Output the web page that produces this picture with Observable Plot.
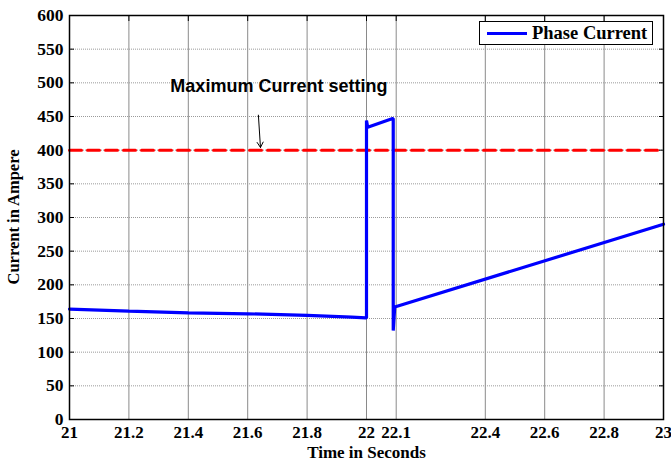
<!DOCTYPE html>
<html>
<head>
<meta charset="utf-8">
<script src="https://cdn.jsdelivr.net/npm/d3@7"></script>
<script src="https://cdn.jsdelivr.net/npm/@observablehq/plot@0.6"></script>
<style>
  html, body { margin: 0; padding: 0; background: #fff; }
  #chart { position: relative; width: 671px; height: 460px; }
  .legend {
    position: absolute; left: 479px; top: 21px; width: 174px; height: 24px;
    border: 1px solid #000; background: #fff; box-sizing: border-box;
    display: flex; align-items: center;
    font: bold 18.5px "Liberation Serif", "Times New Roman", serif; color: #000;
  }
  .legend .swatch { width: 40px; height: 3px; background: #0000ff; margin: 0 5px 0 7px; }
</style>
</head>
<body>
<div id="chart"></div>
<script>
// Phase current trace (seconds, amperes)
const time    = [21.0, 21.2, 21.4, 21.6, 21.8, 21.95, 21.998, 22.0, 22.0, 22.004, 22.088, 22.09, 22.09, 22.095, 23.0];
const current = [164,  161,  158.5, 157, 154.5, 152,  151,    151,  444,  434,    447,    447,    132,    167,    290];

// Maximum current setting
const limitTime = [21, 23];
const limitCurrent = [400, 400];

// Axis ticks
const xTicks = [21, 21.2, 21.4, 21.6, 21.8, 22, 22.1, 22.4, 22.6, 22.8, 23];
const yTicks = [0, 50, 100, 150, 200, 250, 300, 350, 400, 450, 500, 550, 600];

// Annotation
const noteText = ["Maximum Current setting"];
const noteAt = {x: 21.705, y: 495};
const noteArrow = {x1: 21.636, y1: 452, x2: 21.643, y2: 404};

const series = time.map((t, i) => ({t, a: current[i]}));
const limit = limitTime.map((t, i) => ({t, a: limitCurrent[i]}));

const serif = '"Liberation Serif", "Times New Roman", serif';

const plot = Plot.plot({
  width: 671,
  height: 460,
  marginLeft: 69,
  marginRight: 8,
  marginTop: 15,
  marginBottom: 41,
  style: {fontFamily: serif, background: "#fff"},
  x: {domain: [21, 23]},
  y: {domain: [0, 600]},
  marks: [
    Plot.gridX(xTicks, {stroke: "#8a8a8a", strokeOpacity: 1, strokeWidth: 1}),
    Plot.gridY(yTicks, {stroke: "#9a9a9a", strokeOpacity: 1, strokeWidth: 1, strokeDasharray: "1,1"}),
    Plot.axisX({ticks: xTicks, tickSize: -5, tickPadding: 11, tickFormat: d => String(d),
      fontSize: 17, fontWeight: "bold", fill: "#000", stroke: "none",
      label: "Time in Seconds", labelAnchor: "center", labelArrow: "none", labelOffset: 38}),
    Plot.axisY({ticks: yTicks, tickSize: -5, tickPadding: 11, tickFormat: d => String(d),
      fontSize: 17.5, fontWeight: "bold",
      label: null}),
    Plot.axisX({anchor: "top", ticks: xTicks, tickSize: -5, tickFormat: () => "", label: null}),
    Plot.axisY({anchor: "right", ticks: yTicks, tickSize: -5, tickFormat: () => "", label: null}),
    Plot.line(limit, {x: "t", y: "a", stroke: "#ff0000", strokeWidth: 3, strokeDasharray: "12,6"}),
    Plot.line(series, {x: "t", y: "a", stroke: "#0000ff", strokeWidth: 3.2, strokeLinejoin: "miter"}),
    Plot.text(noteText, {x: () => noteAt.x, y: () => noteAt.y, text: d => d,
      fontFamily: '"Liberation Sans", Arial, sans-serif', fontWeight: "bold", fontSize: 18, fill: "#000"}),
    Plot.arrow([noteArrow], {x1: "x1", y1: "y1", x2: "x2", y2: "y2", stroke: "#000", strokeWidth: 1, headLength: 9}),
    Plot.frame({stroke: "#000", strokeWidth: 1.5})
  ]
});

const chart = document.getElementById("chart");
chart.appendChild(plot);

// Axis title font sizes
d3.select(plot).selectAll("[aria-label='x-axis label'] text").attr("font-size", 17).attr("font-weight", "bold");

// Y axis title
const svg = d3.select(plot);
svg.append("text")
  .attr("transform", "translate(19,217) rotate(-90)")
  .attr("text-anchor", "middle")
  .attr("font-family", serif)
  .attr("font-weight", "bold")
  .attr("font-size", 16.5)
  .attr("fill", "#000")
  .text("Current in Ampere");

// Legend
const legend = document.createElement("div");
legend.className = "legend";
legend.innerHTML = '<span class="swatch"></span><span>Phase Current</span>';
chart.appendChild(legend);
</script>
</body>
</html>
